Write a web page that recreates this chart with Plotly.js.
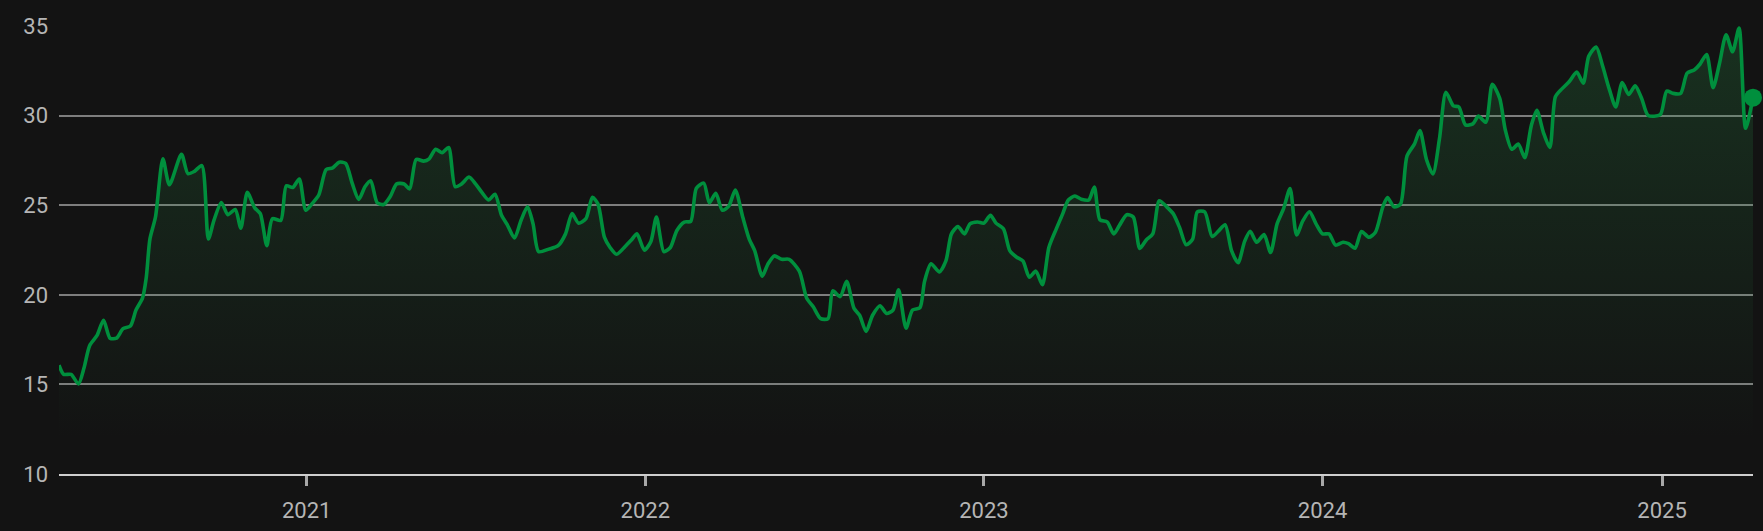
<!DOCTYPE html>
<html>
<head>
<meta charset="utf-8">
<script src="https://cdn.plot.ly/plotly-3.0.1.min.js"></script>
<style>
  html, body { margin: 0; padding: 0; background: #131313; }
  #chart { width: 1763px; height: 531px; }
</style>
</head>
<body>
<div id="chart"></div>
<script>
const dates = [
  '2020-04-09','2020-04-14','2020-04-22','2020-04-30','2020-05-06','2020-05-12','2020-05-20','2020-05-27',
  '2020-06-03','2020-06-10','2020-06-17','2020-06-25','2020-07-01','2020-07-08','2020-07-12','2020-07-16',
  '2020-07-22','2020-07-30','2020-08-06','2020-08-19','2020-08-26','2020-09-02','2020-09-10','2020-09-17',
  '2020-09-23','2020-10-01','2020-10-08','2020-10-16','2020-10-22','2020-10-29','2020-11-06','2020-11-12',
  '2020-11-19','2020-11-25','2020-12-04','2020-12-10','2020-12-17','2020-12-24','2020-12-31',
  '2021-01-07','2021-01-14','2021-01-22','2021-01-29','2021-02-05','2021-02-12','2021-02-19','2021-02-26',
  '2021-03-05','2021-03-11','2021-03-18','2021-03-25','2021-04-01','2021-04-08','2021-04-16','2021-04-22',
  '2021-04-29','2021-05-07','2021-05-13','2021-05-20','2021-05-27','2021-06-03','2021-06-10','2021-06-17',
  '2021-06-25','2021-07-02','2021-07-09','2021-07-16','2021-07-23','2021-07-30','2021-08-05','2021-08-13',
  '2021-08-20','2021-08-27','2021-09-02','2021-09-08','2021-09-19','2021-09-29','2021-10-07','2021-10-14',
  '2021-10-21','2021-10-29','2021-11-05','2021-11-11','2021-11-18','2021-11-24','2021-12-01','2021-12-10',
  '2021-12-17','2021-12-23','2021-12-31',
  '2022-01-07','2022-01-13','2022-01-21','2022-01-28','2022-02-04','2022-02-12','2022-02-19','2022-02-25',
  '2022-03-05','2022-03-11','2022-03-18','2022-03-25','2022-04-01','2022-04-08','2022-04-16','2022-04-23',
  '2022-04-29','2022-05-07','2022-05-13','2022-05-20','2022-05-28','2022-06-05','2022-06-16','2022-06-24',
  '2022-07-01','2022-07-09','2022-07-17','2022-07-22','2022-07-30','2022-08-06','2022-08-14','2022-08-20',
  '2022-08-27','2022-09-03','2022-09-11','2022-09-18','2022-09-25','2022-10-01','2022-10-09','2022-10-16',
  '2022-10-24','2022-10-29','2022-11-05','2022-11-14','2022-11-21','2022-11-27','2022-12-04','2022-12-11',
  '2022-12-17','2022-12-25',
  '2023-01-01','2023-01-08','2023-01-14','2023-01-22','2023-01-29','2023-02-05','2023-02-12','2023-02-19',
  '2023-02-26','2023-03-05','2023-03-12','2023-03-20','2023-03-27','2023-04-02','2023-04-09','2023-04-16',
  '2023-04-24','2023-04-30','2023-05-06','2023-05-14','2023-05-21','2023-05-27','2023-06-04','2023-06-11',
  '2023-06-18','2023-06-25','2023-07-02','2023-07-09','2023-07-17','2023-07-24','2023-07-31','2023-08-07',
  '2023-08-14','2023-08-19','2023-08-27','2023-09-04','2023-09-11','2023-09-18','2023-09-25','2023-10-02',
  '2023-10-09','2023-10-15','2023-10-22','2023-10-30','2023-11-06','2023-11-13','2023-11-20','2023-11-27',
  '2023-12-04','2023-12-11','2023-12-18','2023-12-25',
  '2024-01-01','2024-01-08','2024-01-15','2024-01-23','2024-01-29','2024-02-05','2024-02-12','2024-02-20',
  '2024-02-27','2024-03-06','2024-03-11','2024-03-18','2024-03-25','2024-04-01','2024-04-09','2024-04-15',
  '2024-04-22','2024-04-29','2024-05-06','2024-05-13','2024-05-21','2024-05-27','2024-06-03','2024-06-11',
  '2024-06-17','2024-06-25','2024-07-02','2024-07-10','2024-07-16','2024-07-23','2024-07-30','2024-08-06',
  '2024-08-13','2024-08-19','2024-08-26','2024-09-02','2024-09-08','2024-09-15','2024-09-23','2024-10-01',
  '2024-10-08','2024-10-14','2024-10-22','2024-10-29','2024-11-05','2024-11-12','2024-11-19','2024-11-26',
  '2024-12-03','2024-12-10','2024-12-17','2024-12-30',
  '2025-01-06','2025-01-13','2025-01-21','2025-01-28','2025-02-05','2025-02-11','2025-02-18','2025-02-25',
  '2025-03-04','2025-03-11','2025-03-18','2025-03-25','2025-04-01','2025-04-09'
];

const values = [
  16.07,15.56,15.56,15.03,15.93,17.16,17.73,18.58,
  17.58,17.58,18.11,18.26,19.15,19.81,20.94,23.11,
  24.34,27.59,26.14,27.84,26.76,26.89,27.21,23.11,
  24.15,25.15,24.47,24.76,23.72,25.72,24.85,24.53,
  22.74,24.25,24.15,26.08,25.99,26.46,24.72,
  25.10,25.57,26.99,27.08,27.40,27.33,26.23,25.32,
  26.04,26.36,25.14,25.04,25.48,26.19,26.18,25.91,
  27.55,27.46,27.59,28.12,27.93,28.22,26.04,26.19,
  26.57,26.19,25.70,25.29,25.61,24.44,23.93,23.17,
  24.15,24.91,23.96,22.41,22.55,22.74,23.40,24.53,
  24.00,24.25,25.44,25.06,23.20,22.64,22.26,22.68,
  23.06,23.40,22.49,
  22.98,24.34,22.41,22.64,23.59,24.06,24.10,25.95,
  26.23,25.14,25.67,24.72,24.95,25.85,24.34,23.11,
  22.45,21.04,21.70,22.17,21.98,21.98,21.32,19.81,
  19.33,18.67,18.67,20.22,19.90,20.75,19.24,18.86,
  17.96,18.86,19.39,18.96,19.15,20.28,18.14,19.15,
  19.28,20.75,21.73,21.28,21.89,23.40,23.81,23.40,
  23.96,24.06,
  24.00,24.44,24.00,23.68,22.45,22.11,21.89,20.98,
  21.32,20.56,22.64,23.68,24.53,25.29,25.51,25.33,
  25.29,26.01,24.19,24.06,23.40,23.87,24.47,24.34,
  22.59,23.06,23.40,25.25,24.91,24.53,23.74,22.79,
  23.11,24.63,24.63,23.25,23.57,23.91,22.45,21.79,
  22.98,23.55,22.93,23.36,22.36,23.96,24.81,25.93,
  23.34,24.15,24.63,23.96,
  23.40,23.40,22.77,22.93,22.85,22.60,23.53,23.21,
  23.49,24.91,25.42,24.91,25.06,27.74,28.41,29.16,
  27.55,26.74,28.69,31.30,30.54,30.48,29.48,29.54,
  29.97,29.63,31.75,30.96,29.20,28.12,28.41,27.65,
  29.44,30.29,29.07,28.22,31.05,31.49,31.90,32.43,
  31.81,33.32,33.83,32.75,31.49,30.48,31.84,31.18,
  31.66,30.96,30.01,30.05,
  31.37,31.24,31.24,32.37,32.56,32.88,33.41,31.56,
  32.94,34.51,33.56,34.89,29.29,31.00
];

const yTicks = [10, 15, 20, 25, 30, 35];
const xTickDates = ['2021-01-01','2022-01-01','2023-01-01','2024-01-01','2025-01-01'];
const xTickLabels = ['2021','2022','2023','2024','2025'];

const green = '#008f3d';

const lineTrace = {
  x: dates,
  y: values,
  type: 'scatter',
  mode: 'lines',
  line: { color: green, width: 3.6, shape: 'spline', smoothing: 0.7 },
  fill: 'tozeroy',
  fillgradient: {
    type: 'vertical',
    start: 12,
    stop: 35,
    colorscale: [[0, 'rgba(40,140,70,0)'], [1, 'rgba(40,140,70,0.25)']]
  },
  hoverinfo: 'skip'
};

const lastTrace = {
  x: [dates[dates.length - 1]],
  y: [values[values.length - 1]],
  type: 'scatter',
  mode: 'markers',
  marker: { color: green, size: 18 },
  cliponaxis: false,
  hoverinfo: 'skip'
};

const layout = {
  width: 1763,
  height: 531,
  margin: { l: 59, r: 10, t: 26, b: 57 },
  paper_bgcolor: '#131313',
  plot_bgcolor: '#131313',
  showlegend: false,
  font: { family: 'Roboto, sans-serif', size: 22, color: '#b5b5b5' },
  xaxis: {
    type: 'date',
    range: [dates[0], dates[dates.length - 1]],
    tickvals: xTickDates,
    ticktext: xTickLabels,
    ticks: 'outside',
    ticklen: 10,
    tickwidth: 3,
    tickcolor: '#a8a8a8',
    showgrid: false,
    showline: true,
    linecolor: '#cfcfcf',
    linewidth: 2,
    zeroline: false,
    tickfont: { family: 'Roboto, sans-serif', size: 22, color: '#b5b5b5' },
    ticklabelstandoff: 6
  },
  yaxis: {
    range: [10, 35],
    tickvals: yTicks,
    ticks: '',
    showgrid: true,
    gridcolor: '#7e7e7e',
    gridwidth: 2,
    zeroline: false,
    showline: false,
    tickfont: { family: 'Roboto, sans-serif', size: 22, color: '#b5b5b5' },
    ticklabelstandoff: 10
  }
};

Plotly.newPlot('chart', [lineTrace, lastTrace], layout, { displayModeBar: false, staticPlot: true });
</script>
</body>
</html>
